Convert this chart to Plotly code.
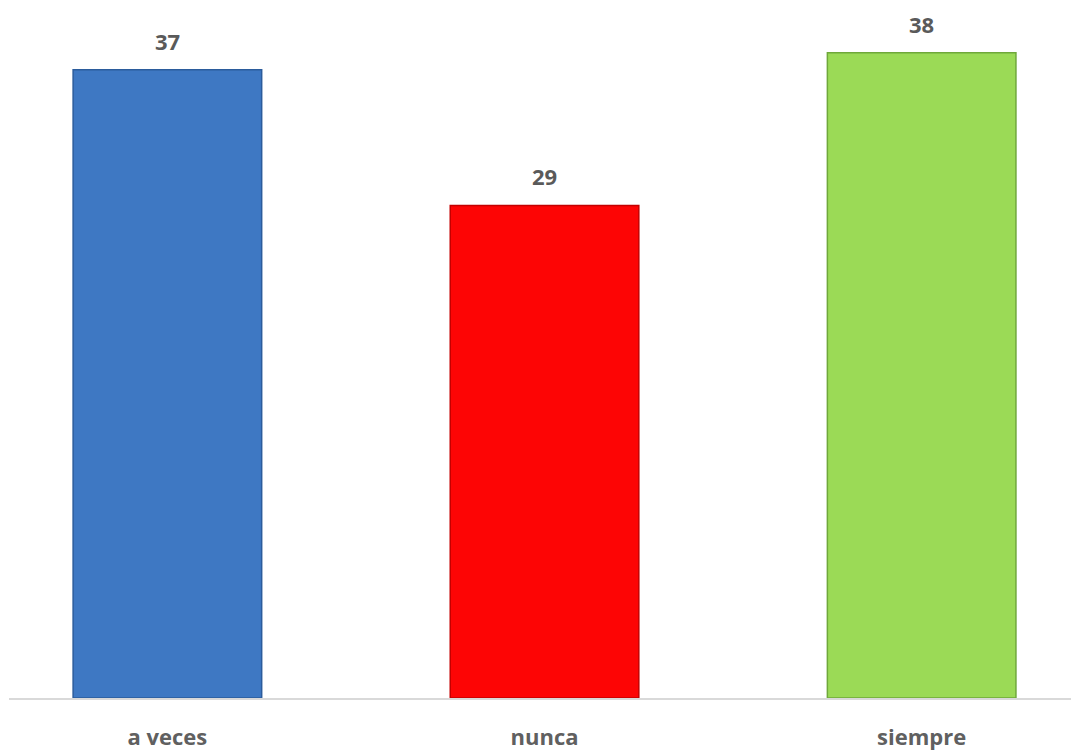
import plotly.graph_objects as go

categories = ["a veces", "nunca", "siempre"]
values = [37, 29, 38]
bar_colors = ["#3e78c3", "#fd0505", "#9bda56"]
edge_colors = ["#2b5c9c", "#c40000", "#6fa83a"]

fig = go.Figure()
fig.add_trace(go.Bar(
    x=categories, y=values,
    marker=dict(color=bar_colors, line=dict(color=edge_colors, width=1.5)),
    width=0.5,
    hoverinfo="x+y",
))

for c, v in zip(categories, values):
    fig.add_annotation(x=c, y=v, text=str(v), showarrow=False, yshift=29,
                       font=dict(family="Open Sans", size=22, color="#5a5a5a", weight="bold"),
                       yanchor="middle")

fig.update_layout(
    width=1071, height=751,
    margin=dict(l=9, r=0, t=0, b=51),
    paper_bgcolor="white", plot_bgcolor="white",
    showlegend=False,
    xaxis=dict(range=[-0.420, 2.396], showline=True, linecolor="#d9d9d9", linewidth=1.5,
               ticks="outside", ticklen=19, tickcolor="rgba(0,0,0,0)",
               tickfont=dict(family="Open Sans", size=22, color="#606060", weight="bold"),
               showgrid=False, zeroline=False, fixedrange=True),
    yaxis=dict(range=[0, 41.1], visible=False, showgrid=False, zeroline=False, fixedrange=True),
)

fig.write_html("out.html", config={"displayModeBar": False},
               post_script="document.body.style.margin='0';document.body.style.overflow='hidden';")
